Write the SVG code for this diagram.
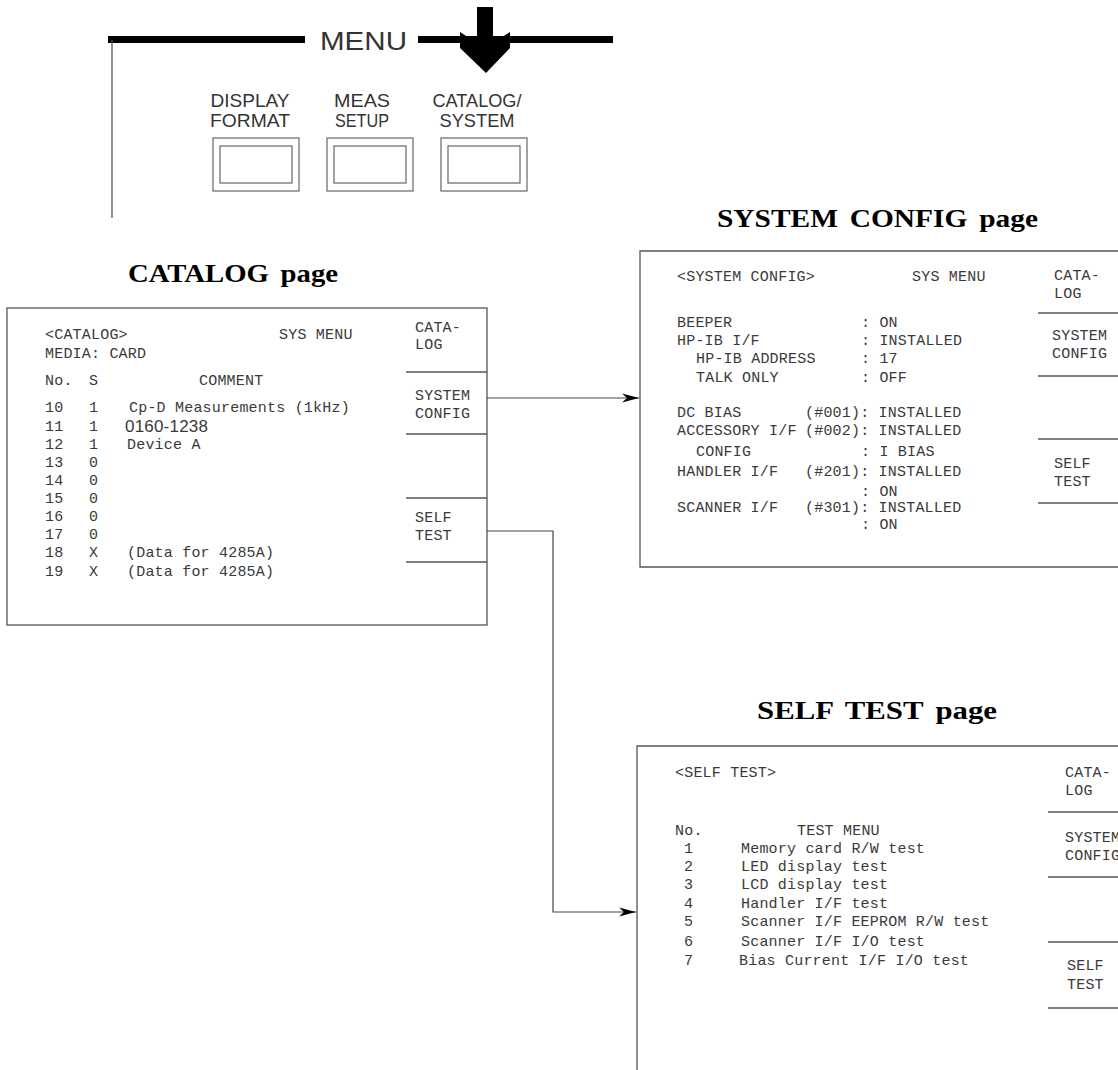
<svg xmlns="http://www.w3.org/2000/svg" width="1118" height="1070" viewBox="0 0 1118 1070">
<defs>
<style>
.scr{font-family:"Liberation Mono","DejaVu Sans Mono",monospace;font-size:15px;fill:#3a3a3a;letter-spacing:0.2px}
.lbl{font-family:"Liberation Sans",Arial,sans-serif;font-size:19px;fill:#333;text-anchor:middle}
.ttl{font-family:"Liberation Serif","Times New Roman",serif;font-size:26px;font-weight:bold;fill:#000;word-spacing:4px}
.frame{fill:none;stroke:#555;stroke-width:1.3}
.sk{stroke:#555;stroke-width:1.3;fill:none}
.btn{fill:#fff;stroke:#666;stroke-width:1.2}
.conn{fill:none;stroke:#444;stroke-width:1.2}
</style>
<marker id="arr" markerWidth="18" markerHeight="10" viewBox="-18 -5 18 10" refX="0" refY="0" orient="auto" markerUnits="userSpaceOnUse">
<path d="M0,0 L-17,-4.5 L-12,0 L-17,4.5 Z" fill="#000"/>
</marker>
</defs>
<rect width="1118" height="1070" fill="#fff"/>

<g id="menu">
<line x1="108" y1="39.5" x2="305" y2="39.5" stroke="#000" stroke-width="7"/>
<line x1="418" y1="39.5" x2="613" y2="39.5" stroke="#000" stroke-width="7"/>
<text x="320" y="50" font-family="Liberation Sans, Arial, sans-serif" font-size="25" fill="#333" textLength="87" lengthAdjust="spacingAndGlyphs">MENU</text>
<line x1="112" y1="40" x2="112" y2="218" stroke="#555" stroke-width="1.3"/>
<polygon points="477,7 493,7 493,43 510,32 510,48 486,73 460,48 460,32 477,43" fill="#000"/>
</g>

<g id="btn-display">
<text class="lbl" x="250" y="107" textLength="79" lengthAdjust="spacingAndGlyphs">DISPLAY</text>
<text class="lbl" x="250" y="127" textLength="80" lengthAdjust="spacingAndGlyphs">FORMAT</text>
<rect class="btn" x="213" y="138" width="86" height="53"/>
<rect class="btn" x="220" y="146" width="72" height="37"/>
</g>
<g id="btn-meas">
<text class="lbl" x="362" y="107" textLength="56" lengthAdjust="spacingAndGlyphs">MEAS</text>
<text class="lbl" x="362" y="127" textLength="54" lengthAdjust="spacingAndGlyphs">SETUP</text>
<rect class="btn" x="327" y="138" width="86" height="53"/>
<rect class="btn" x="334" y="146" width="72" height="37"/>
</g>
<g id="btn-catalog">
<text class="lbl" x="477" y="107" textLength="89" lengthAdjust="spacingAndGlyphs">CATALOG/</text>
<text class="lbl" x="477" y="127" textLength="75" lengthAdjust="spacingAndGlyphs">SYSTEM</text>
<rect class="btn" x="441" y="138" width="86" height="53"/>
<rect class="btn" x="448" y="146" width="72" height="37"/>
</g>

<g id="catalog-page">
<text class="ttl" x="128" y="282" textLength="210" lengthAdjust="spacingAndGlyphs">CATALOG page</text>
<rect class="frame" x="7" y="308" width="480" height="317"/>
<path class="sk" d="M406,372H487M406,434H487M406,498H487M406,562H487"/>
<text class="scr" x="45" y="339">&lt;CATALOG&gt;</text>
<text class="scr" x="279" y="339">SYS MENU</text>
<text class="scr" x="45" y="358">MEDIA: CARD</text>
<text class="scr" x="45" y="385">No.</text>
<text class="scr" x="89" y="385">S</text>
<text class="scr" x="199" y="385">COMMENT</text>
<g class="scr">
<text x="45" y="412">10</text><text x="89" y="412">1</text><text x="129" y="412">Cp-D Measurements (1kHz)</text>
<text x="45" y="431">11</text><text x="89" y="431">1</text><text x="125" y="432" font-family="Liberation Sans, Arial, sans-serif" font-size="17">0160-1238</text>
<text x="45" y="449">12</text><text x="89" y="449">1</text><text x="127" y="449">Device A</text>
<text x="45" y="467">13</text><text x="89" y="467">0</text>
<text x="45" y="485">14</text><text x="89" y="485">0</text>
<text x="45" y="503">15</text><text x="89" y="503">0</text>
<text x="45" y="521">16</text><text x="89" y="521">0</text>
<text x="45" y="539">17</text><text x="89" y="539">0</text>
<text x="45" y="557">18</text><text x="89" y="557">X</text><text x="127" y="557">(Data for 4285A)</text>
<text x="45" y="576">19</text><text x="89" y="576">X</text><text x="127" y="576">(Data for 4285A)</text>
</g>
<g class="scr">
<text x="415" y="332">CATA-</text><text x="415" y="349">LOG</text>
<text x="415" y="400">SYSTEM</text><text x="415" y="418">CONFIG</text>
<text x="415" y="522">SELF</text><text x="415" y="540">TEST</text>
</g>
</g>

<g id="system-config-page">
<text class="ttl" x="717" y="227" textLength="321" lengthAdjust="spacingAndGlyphs">SYSTEM CONFIG page</text>
<path class="frame" d="M1118,251H640V567H1118"/>
<path class="sk" d="M1038,313H1118M1038,376H1118M1038,439H1118M1038,503H1118"/>
<g class="scr">
<text x="677" y="281">&lt;SYSTEM CONFIG&gt;</text>
<text x="912" y="281">SYS MENU</text>
<text x="677" y="327">BEEPER</text><text x="861" y="327">: ON</text>
<text x="677" y="345">HP-IB I/F</text><text x="861" y="345">: INSTALLED</text>
<text x="696" y="363">HP-IB ADDRESS</text><text x="861" y="363">: 17</text>
<text x="696" y="382">TALK ONLY</text><text x="861" y="382">: OFF</text>
<text x="677" y="417">DC BIAS</text><text x="805" y="417">(#001): INSTALLED</text>
<text x="677" y="435">ACCESSORY I/F</text><text x="805" y="435">(#002): INSTALLED</text>
<text x="696" y="456">CONFIG</text><text x="861" y="456">: I BIAS</text>
<text x="677" y="476">HANDLER I/F</text><text x="805" y="476">(#201): INSTALLED</text>
<text x="861" y="496">: ON</text>
<text x="677" y="512">SCANNER I/F</text><text x="805" y="512">(#301): INSTALLED</text>
<text x="861" y="529">: ON</text>
<text x="1054" y="280">CATA-</text><text x="1054" y="298">LOG</text>
<text x="1052" y="340">SYSTEM</text><text x="1052" y="358">CONFIG</text>
<text x="1054" y="468">SELF</text><text x="1054" y="486">TEST</text>
</g>
</g>

<g id="self-test-page">
<text class="ttl" x="757" y="719" textLength="240" lengthAdjust="spacingAndGlyphs">SELF TEST page</text>
<path class="frame" d="M1118,746H637V1070"/>
<path class="sk" d="M1048,812H1118M1048,877H1118M1048,942H1118M1048,1008H1118"/>
<g class="scr">
<text x="675" y="777">&lt;SELF TEST&gt;</text>
<text x="675" y="835">No.</text><text x="797" y="835">TEST MENU</text>
<text x="684" y="853">1</text><text x="741" y="853">Memory card R/W test</text>
<text x="684" y="871">2</text><text x="741" y="871">LED display test</text>
<text x="684" y="889">3</text><text x="741" y="889">LCD display test</text>
<text x="684" y="908">4</text><text x="741" y="908">Handler I/F test</text>
<text x="684" y="926">5</text><text x="741" y="926">Scanner I/F EEPROM R/W test</text>
<text x="684" y="946">6</text><text x="741" y="946">Scanner I/F I/O test</text>
<text x="684" y="965">7</text><text x="739" y="965">Bias Current I/F I/O test</text>
<text x="1065" y="777">CATA-</text><text x="1065" y="795">LOG</text>
<text x="1065" y="842">SYSTEM</text><text x="1065" y="860">CONFIG</text>
<text x="1067" y="970">SELF</text><text x="1067" y="989">TEST</text>
</g>
</g>

<g id="connectors">
<path class="conn" d="M487,398H639" marker-end="url(#arr)"/>
<path class="conn" d="M487,531H553V912H636" marker-end="url(#arr)"/>
</g>
</svg>
